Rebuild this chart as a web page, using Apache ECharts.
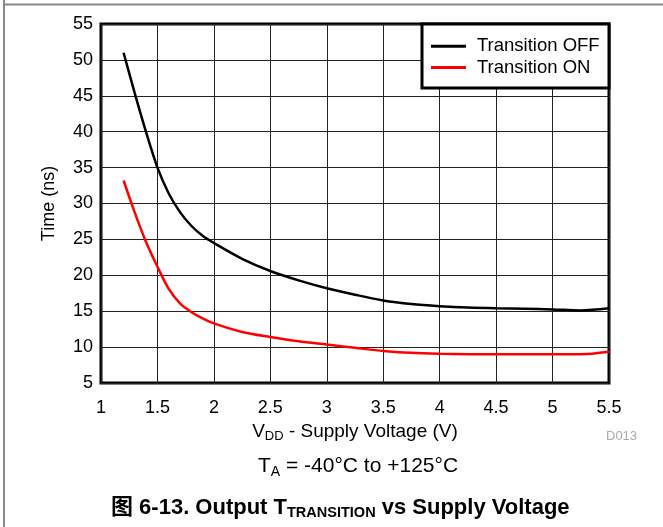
<!DOCTYPE html>
<html>
<head>
<meta charset="utf-8">
<script src="https://cdn.jsdelivr.net/npm/echarts@6/dist/echarts.min.js"></script>
<style>
html,body{margin:0;padding:0;background:#fff;}
#c{width:663px;height:527px;}
</style>
</head>
<body>
<div id="c"></div>
<script>
const voltage = [1.2, 1.3, 1.4, 1.5, 1.6, 1.7, 1.8, 1.9, 2.0, 2.25, 2.5, 2.75, 3.0, 3.25, 3.5, 3.75, 4.0, 4.25, 4.5, 4.75, 5.0, 5.25, 5.5];
const transitionOff = [51, 45.3, 39.9, 35, 31.4, 28.8, 26.9, 25.5, 24.5, 22.3, 20.6, 19.3, 18.2, 17.3, 16.5, 16.0, 15.7, 15.5, 15.4, 15.35, 15.25, 15.1, 15.4];
const transitionOn = [33.2, 28.7, 24.6, 21.2, 18.1, 16.1, 14.9, 14.0, 13.3, 12.1, 11.4, 10.8, 10.35, 9.9, 9.45, 9.2, 9.08, 9.02, 9.0, 9.0, 9.0, 9.0, 9.35];
const seriesNames = ['Transition OFF', 'Transition ON'];
const xTicks = [1, 1.5, 2, 2.5, 3, 3.5, 4, 4.5, 5, 5.5];
const yTicks = [5, 10, 15, 20, 25, 30, 35, 40, 45, 50, 55];

const FONT = '"Liberation Sans", Arial, Helvetica, "Noto Sans CJK SC", sans-serif';
const chart = echarts.init(document.getElementById('c'), null, {renderer: 'canvas'});
const pair = (xs, ys) => xs.map((x, i) => [x, ys[i]]);

chart.setOption({
  animation: false,
  backgroundColor: '#fff',
  textStyle: {fontFamily: FONT},
  grid: {left: 101, top: 24, right: 54, bottom: 144, show: true, borderColor: '#000', borderWidth: 3, backgroundColor: 'transparent'},
  xAxis: {
    type: 'value', min: xTicks[0], max: xTicks[xTicks.length - 1], interval: 0.5,
    axisLine: {show: false}, axisTick: {show: false},
    axisLabel: {color: '#000', fontSize: 18, margin: 16, fontFamily: FONT},
    splitLine: {show: true, lineStyle: {color: '#222', width: 1}},
    name: '{a|V}{s|DD}{a| - Supply Voltage (V)}',
    nameLocation: 'middle', nameGap: 36,
    nameTextStyle: {rich: {a: {fontSize: 19, color: '#000', fontFamily: FONT}, s: {fontSize: 13, color: '#000', fontFamily: FONT, padding: [10,0,0,0]}}}
  },
  yAxis: {
    type: 'value', min: yTicks[0], max: yTicks[yTicks.length - 1], interval: 5,
    axisLine: {show: false}, axisTick: {show: false},
    axisLabel: {color: '#000', fontSize: 18, margin: 8, fontFamily: FONT},
    splitLine: {show: true, lineStyle: {color: '#222', width: 1}},
    name: 'Time (ns)', nameLocation: 'middle', nameGap: 43,
    nameTextStyle: {fontSize: 18, color: '#000', fontFamily: FONT}
  },
  legend: {
    orient: 'vertical', left: 431, top: 35.5, padding: 0, itemGap: 0,
    itemWidth: 35, itemHeight: 3, z: 20, icon: 'rect',
    textStyle: {fontSize: 18.5, color: '#000', fontFamily: FONT, lineHeight: 21.4, padding: [0,0,0,6]},
    data: seriesNames
  },
  graphic: [
    {type: 'rect', z: 10, shape: {x: 422, y: 24, width: 187, height: 64}, style: {fill: '#fff', stroke: '#000', lineWidth: 3}},
    {type: 'line', z: 30, shape: {x1: 4, y1: 0, x2: 4, y2: 527}, style: {stroke: '#888', lineWidth: 2}},
    {type: 'line', z: 30, shape: {x1: 4, y1: 4.5, x2: 663, y2: 4.5}, style: {stroke: '#888', lineWidth: 2}},
    {type: 'text', z: 30, left: 606, top: 430, style: {text: 'D013', fontSize: 13, fill: '#aaa', fontFamily: FONT}},
    {type: 'text', z: 30, left: 258, top: 456, style: {
      text: '{a|T}{s|A}{a| = -40°C to +125°C}',
      rich: {a: {fontSize: 21, fill: '#000', fontFamily: FONT}, s: {fontSize: 14, fill: '#000', fontFamily: FONT, padding: [12,0,0,0]}}
    }},
    {type: 'text', z: 30, left: 111, top: 497, style: {
      text: '{b|图 6-13. Output T}{s|TRANSITION}{b| vs Supply Voltage}',
      rich: {b: {fontSize: 22, fontWeight: 'bold', fill: '#000', fontFamily: FONT}, s: {fontSize: 14.5, fontWeight: 'bold', fill: '#000', fontFamily: FONT, padding: [10,0,0,0]}}
    }}
  ],
  series: [
    {name: seriesNames[0], type: 'line', data: pair(voltage, transitionOff), smooth: 0.3, symbol: 'none', lineStyle: {color: '#000', width: 2.5}, itemStyle: {color: '#000'}},
    {name: seriesNames[1], type: 'line', data: pair(voltage, transitionOn), smooth: 0.3, symbol: 'none', lineStyle: {color: '#ff0000', width: 2.5}, itemStyle: {color: '#ff0000'}}
  ]
});
</script>
</body>
</html>
